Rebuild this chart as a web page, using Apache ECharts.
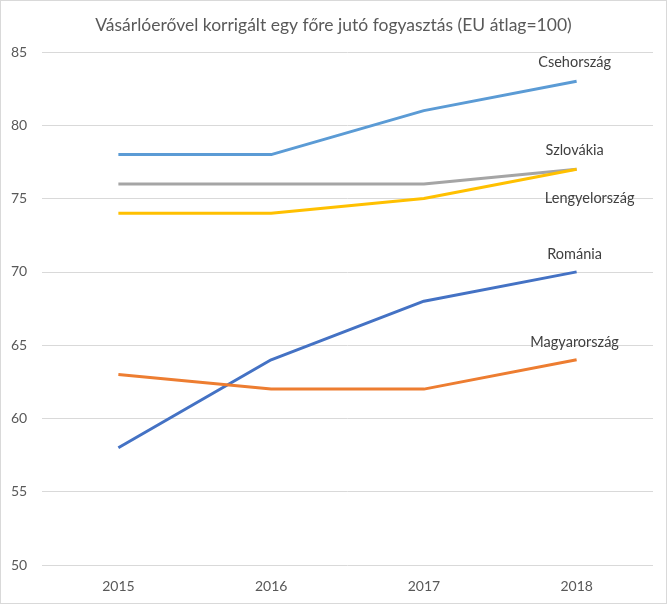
<!DOCTYPE html>
<html>
<head>
<meta charset="utf-8">
<script src="https://cdn.jsdelivr.net/npm/echarts@6/dist/echarts.min.js"></script>
<style>
  html, body { margin: 0; padding: 0; background: #fff; }
  #chart { width: 665px; height: 602px; border: 1px solid #d9d9d9; }
</style>
</head>
<body>
<div id="chart"></div>
<script>
// adatok
const years = ['2015', '2016', '2017', '2018'];
const csehorszag = [78, 78, 81, 83];
const szlovakia = [76, 76, 76, 77];
const lengyelorszag = [74, 74, 75, 77];
const romania = [58, 64, 68, 70];
const magyarorszag = [63, 62, 62, 64];

const FONT = 'Lato';

/*
* az ország neve a vonal végén
*/
function makeSeries (name, data, color, offset) {
    return {
        name: name,
        type: 'line',
        data: data,
        symbol: 'none',
        lineStyle: { color: color, width: 3 },
        itemStyle: { color: color },
        endLabel: {
            show: true,
            distance: 0,
            align: 'center',
            verticalAlign: 'middle',
            offset: offset,
            color: '#404040',
            fontFamily: FONT,
            fontSize: 14.5,
            formatter: name
        }
    };
}

const chart = echarts.init(document.getElementById('chart'));
chart.setOption({
    animation: false,
    title: {
        text: 'Vásárlóerővel korrigált egy főre jutó fogyasztás (EU átlag=100)',
        left: 'center',
        top: 10,
        textStyle: { color: '#595959', fontFamily: FONT, fontSize: 17.5, fontWeight: 'normal' }
    },
    grid: { left: 41, right: 13, top: 51, bottom: 38 },
    xAxis: {
        type: 'category',
        data: years,
        boundaryGap: true,
        axisLine: { show: false },
        axisTick: { show: false },
        axisLabel: { color: '#595959', fontFamily: FONT, fontSize: 14, margin: 14 }
    },
    yAxis: {
        type: 'value',
        min: 50,
        max: 85,
        interval: 5,
        axisLine: { show: false },
        axisTick: { show: false },
        axisLabel: { color: '#595959', fontFamily: FONT, fontSize: 14, margin: 31, align: 'left' },
        splitLine: { lineStyle: { color: '#d9d9d9', width: 1 } }
    },
    series: [
        makeSeries('Csehország', csehorszag, '#5b9bd5', [-2, -19]),
        makeSeries('Szlovákia', szlovakia, '#a5a5a5', [-2, -19]),
        makeSeries('Lengyelország', lengyelorszag, '#ffc000', [13, 29]),
        makeSeries('Románia', romania, '#4472c4', [-2, -18]),
        makeSeries('Magyarország', magyarorszag, '#ed7d31', [-2, -17])
    ]
});
window.addEventListener('resize', chart.resize);
</script>
</body>
</html>
